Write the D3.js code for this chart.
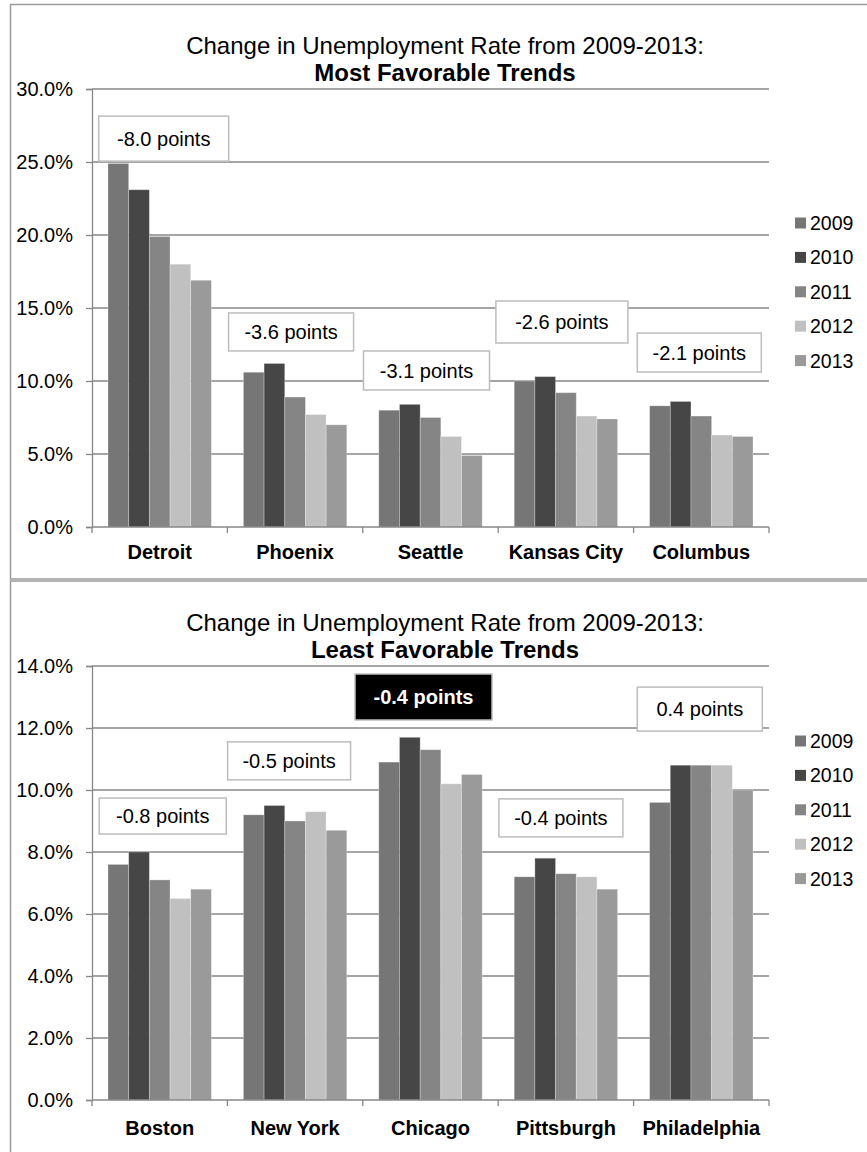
<!DOCTYPE html>
<html><head><meta charset="utf-8">
<script src="https://cdn.jsdelivr.net/npm/d3@7"></script>
<style>body{margin:0;background:#fff}svg{display:block}text{font-family:"Liberation Sans",Arial,sans-serif}</style>
</head><body>
<svg id="c" width="867" height="1152"></svg>
<script>
const years = ["2009","2010","2011","2012","2013"];
const colors = ["#767676","#464646","#858585","#c0c0c0","#9a9a9a"];

const topCities = ["Detroit","Phoenix","Seattle","Kansas City","Columbus"];
const topValues = [
  [24.9,23.1,19.9,18.0,16.9],
  [10.6,11.2,8.9,7.7,7.0],
  [8.0,8.4,7.5,6.2,4.9],
  [10.0,10.3,9.2,7.6,7.4],
  [8.3,8.6,7.6,6.3,6.2]
];
const topTicks = [0,5,10,15,20,25,30];
const topNotes = ["-8.0 points","-3.6 points","-3.1 points","-2.6 points","-2.1 points"];
const topNoteLevel = [26.6,13.36,10.72,14.04,11.95];

const botCities = ["Boston","New York","Chicago","Pittsburgh","Philadelphia"];
const botValues = [
  [7.6,8.0,7.1,6.5,6.8],
  [9.2,9.5,9.0,9.3,8.7],
  [10.9,11.7,11.3,10.2,10.5],
  [7.2,7.8,7.3,7.2,6.8],
  [9.6,10.8,10.8,10.8,10.0]
];
const botTicks = [0,2,4,6,8,10,12,14];
const botNotes = ["-0.8 points","-0.5 points","-0.4 points","-0.4 points","0.4 points"];
const botNoteLevel = [9.16,10.94,13.0,9.10,12.61];
const botNoteHighlight = [false,false,true,false,false];

const titleLine1 = "Change in Unemployment Rate from 2009-2013:";
const topTitle2 = "Most Favorable Trends";
const botTitle2 = "Least Favorable Trends";

const svg = d3.select("#c");

function panel(cfg){
  const g = svg.append("g");
  g.append("rect").attr("x",10.5).attr("y",cfg.boxTop).attr("width",900).attr("height",cfg.boxH)
    .attr("fill","#fff").attr("stroke","#9a9a9a").attr("stroke-width",1.5);
  const x = d3.scaleBand().domain(cfg.cities).range([92,769]);
  const xi = d3.scaleBand().domain(years).range([16,x.bandwidth()-16]);
  const y = d3.scaleLinear().domain([0,cfg.max]).range([cfg.y0,cfg.yTop]);

  // title
  g.append("text").attr("x",445).attr("y",cfg.t1).attr("text-anchor","middle")
    .attr("font-size",24).attr("fill","#000").text(titleLine1);
  g.append("text").attr("x",445).attr("y",cfg.t2).attr("text-anchor","middle")
    .attr("font-size",24).attr("font-weight","bold").attr("fill","#000").text(cfg.title2);

  // gridlines
  g.selectAll(".grid").data(cfg.ticks.filter(t=>t>0)).join("line")
    .attr("x1",92).attr("x2",769).attr("y1",d=>y(d)).attr("y2",d=>y(d))
    .attr("stroke","#878787").attr("stroke-width",1.3);

  // y axis
  const ya = g.append("g").attr("transform","translate(92,0)")
    .call(d3.axisLeft(y).tickValues(cfg.ticks).tickSize(6).tickPadding(13).tickFormat(d=>d.toFixed(1)+"%"));
  ya.select(".domain").attr("stroke","#878787").attr("stroke-width",1.3);
  ya.selectAll(".tick line").attr("stroke","#878787").attr("stroke-width",1.3);
  ya.selectAll(".tick text").attr("font-size",20).attr("fill","#000").attr("font-family","Liberation Sans, Arial, sans-serif");

  // bars
  cfg.cities.forEach((c,i)=>{
    g.selectAll(null).data(cfg.values[i]).join("rect")
      .attr("x",(d,j)=>x(c)+xi(years[j]))
      .attr("width",xi.bandwidth())
      .attr("y",d=>y(d)).attr("height",d=>y(0)-y(d))
      .attr("fill",(d,j)=>colors[j]).attr("stroke","#ffffff").attr("stroke-opacity",0.35).attr("stroke-width",0.8);
  });

  // x axis
  g.append("line").attr("x1",92).attr("x2",769).attr("y1",y(0)).attr("y2",y(0))
    .attr("stroke","#878787").attr("stroke-width",1.3);
  const bounds = cfg.cities.map(c=>x(c)).concat([x.range()[1]]);
  g.selectAll(".xt").data(bounds).join("line")
    .attr("x1",d=>d).attr("x2",d=>d).attr("y1",y(0)).attr("y2",y(0)+6)
    .attr("stroke","#878787").attr("stroke-width",1.3);
  g.selectAll(".xl").data(cfg.cities).join("text")
    .attr("x",d=>x(d)+x.bandwidth()/2).attr("y",cfg.catY).attr("text-anchor","middle")
    .attr("font-size",20).attr("font-weight","bold").attr("fill","#000").text(d=>d);

  // annotations
  cfg.cities.forEach((c,i)=>{
    const hl = cfg.highlight ? cfg.highlight[i] : false;
    const cx = x(c)+x.bandwidth()/2 + cfg.noteDx[i];
    const cy = y(cfg.noteLevel[i]);
    const w = cfg.noteW[i], h = cfg.noteH[i];
    g.append("rect").attr("x",cx-w/2).attr("y",cy-h/2).attr("width",w).attr("height",h)
      .attr("fill",hl?"#000":"#fff").attr("stroke","#bdbdbd").attr("stroke-width",1.5);
    g.append("text").attr("x",cx).attr("y",cy).attr("dy","0.36em").attr("text-anchor","middle")
      .attr("font-size",20).attr("font-weight",hl?"bold":"normal").attr("fill",hl?"#fff":"#000")
      .text(cfg.notes[i]);
  });

  // legend
  const lg = g.selectAll(".lg").data(years).join("g")
    .attr("transform",(d,j)=>`translate(795,${cfg.legY + j*34.4})`);
  lg.append("rect").attr("x",0).attr("y",-5.5).attr("width",11).attr("height",11).attr("fill",(d,j)=>colors[j]);
  lg.append("text").attr("x",15).attr("y",0).attr("dy","0.36em").attr("font-size",19.5).attr("fill","#000").text(d=>d);
}

panel({boxTop:4.5, boxH:574.5, cities:topCities, values:topValues, max:30, ticks:topTicks,
  y0:527, yTop:89, t1:53.5, t2:80.5, title2:topTitle2, catY:559,
  notes:topNotes, noteLevel:topNoteLevel, noteDx:[4,-4,-4,-4,-2], noteW:[130,125,126,132,124], noteH:[45,38,39,42,39],
  legY:223});

panel({boxTop:581, boxH:600, cities:botCities, values:botValues, max:14, ticks:botTicks,
  y0:1100, yTop:666, t1:630.5, t2:657.5, title2:botTitle2, catY:1135,
  notes:botNotes, noteLevel:botNoteLevel, noteDx:[3,-6,-7,-5,-1.5], noteW:[127,123,137,124,125], noteH:[36,38,46,38,44],
  highlight:botNoteHighlight, legY:741});
</script>
</body></html>
